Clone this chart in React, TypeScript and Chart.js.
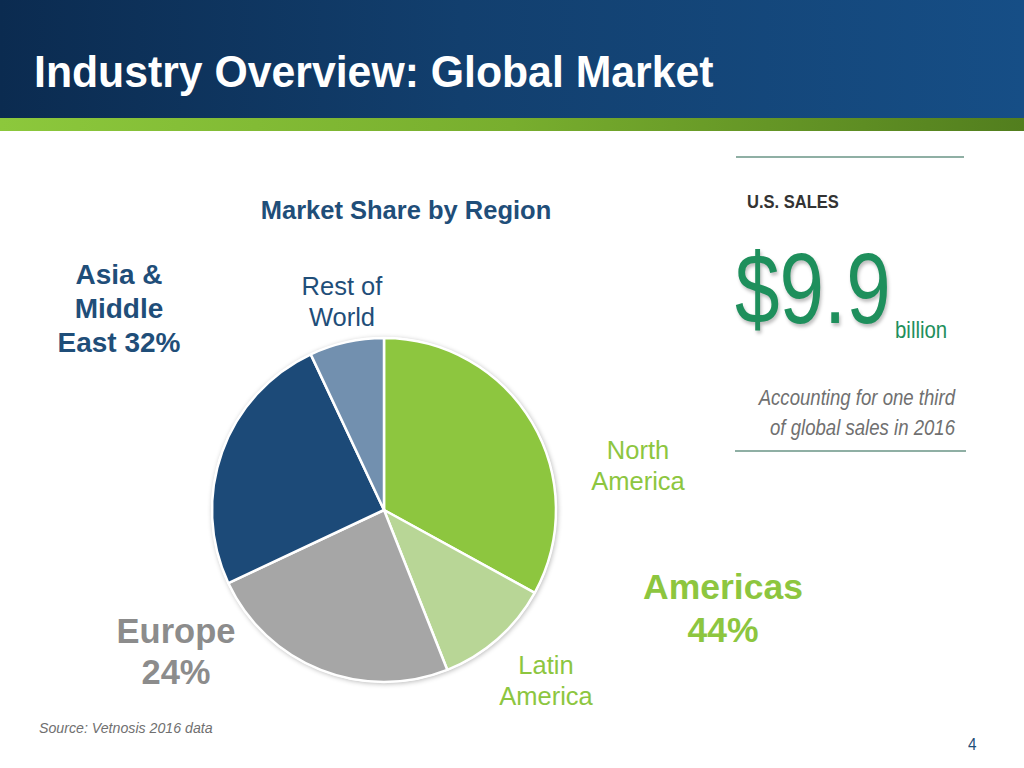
import React, { useEffect, useRef } from "react";
import { Chart, registerables } from "chart.js";

Chart.register(...registerables);

const regions = ["North America", "Latin America", "Europe", "Asia & Middle East", "Rest of World"];
const shares = [33, 11, 24, 25, 7];
const sliceColors = ["#8DC63F", "#B8D696", "#A6A6A6", "#1C4A78", "#7290AF"];

const shadowPlugin = {
  id: "pieShadow",
  beforeDatasetsDraw(chart: any) {
    const meta = chart.getDatasetMeta(0);
    const arc = meta.data[0];
    if (!arc) return;
    const { x, y, outerRadius } = arc.getProps(["x", "y", "outerRadius"], true);
    const ctx = chart.ctx;
    ctx.save();
    ctx.shadowColor = "rgba(0,0,0,0.28)";
    ctx.shadowBlur = 5;
    ctx.shadowOffsetX = 1;
    ctx.shadowOffsetY = 1;
    ctx.fillStyle = "#ffffff";
    ctx.beginPath();
    ctx.arc(x, y, outerRadius + 1, 0, Math.PI * 2);
    ctx.fill();
    ctx.restore();
  },
};

function PieChart() {
  const ref = useRef<HTMLCanvasElement>(null);
  useEffect(() => {
    if (!ref.current) return;
    const chart = new Chart(ref.current, {
      type: "pie",
      data: {
        labels: regions,
        datasets: [
          {
            data: shares,
            backgroundColor: sliceColors,
            borderColor: "#ffffff",
            borderWidth: 2.5,
          },
        ],
      },
      options: {
        animation: false,
        responsive: false,
        radius: 172,
        plugins: { legend: { display: false }, tooltip: { enabled: false } },
        layout: { padding: 0 },
      },
      plugins: [shadowPlugin],
    } as any);
    return () => chart.destroy();
  }, []);
  return (
    <canvas
      ref={ref}
      width={380}
      height={380}
      style={{ position: "absolute", left: 384 - 190, top: 510 - 190, width: 380, height: 380 }}
    />
  );
}

const base: React.CSSProperties = { position: "absolute", fontFamily: "'Liberation Sans', Arial, sans-serif", whiteSpace: "nowrap" };

function Centered(props: { cx: number; top: number; size: number; lh: number; color: string; bold?: boolean; children: React.ReactNode }) {
  return (
    <div
      style={{
        ...base,
        left: props.cx - 200,
        width: 400,
        top: props.top,
        textAlign: "center",
        fontSize: props.size,
        lineHeight: props.lh + "px",
        color: props.color,
        fontWeight: props.bold ? "bold" : "normal",
      }}
    >
      {props.children}
    </div>
  );
}

export default function App() {
  return (
    <div style={{ position: "fixed", left: 0, top: 0, width: 1024, height: 768, background: "#ffffff", overflow: "hidden" }}>
      <div style={{ position: "absolute", left: 0, top: 0, width: 1024, height: 118, background: "linear-gradient(90deg, #0B2B50 0%, #123F6E 45%, #164E86 100%)" }} />
      <div style={{ position: "absolute", left: 0, top: 118, width: 1024, height: 13, background: "linear-gradient(90deg, #8CC83C 0%, #78AE2E 50%, #527E1E 100%)" }} />
      <div style={{ ...base, left: 34, top: 46, fontSize: 45, lineHeight: "52px", fontWeight: "bold", color: "#ffffff", transform: "scaleX(0.95)", transformOrigin: "left center" }}>
        Industry Overview: Global Market
      </div>

      <Centered cx={406} top={195} size={25.5} lh={30} color="#1F4E79" bold>Market Share by Region</Centered>
      <Centered cx={119} top={258} size={28} lh={34} color="#1F4E79" bold>Asia &amp;<br />Middle<br />East 32%</Centered>
      <Centered cx={342} top={271} size={25.5} lh={31} color="#1F4E79">Rest of<br />World</Centered>
      <Centered cx={638} top={435} size={25.5} lh={31} color="#8DC63F">North<br />America</Centered>
      <Centered cx={723} top={566} size={35.5} lh={43} color="#8DC63F" bold>Americas<br />44%</Centered>
      <Centered cx={176} top={611} size={34.5} lh={41} color="#8C8C8C" bold>Europe<br />24%</Centered>
      <Centered cx={546} top={650} size={25.5} lh={31} color="#8DC63F">Latin<br />America</Centered>

      <PieChart />

      <div style={{ position: "absolute", left: 736, top: 156, width: 228, height: 2, background: "#8FAFA4" }} />
      <div style={{ ...base, left: 747, top: 191, fontSize: 19, lineHeight: "22px", fontWeight: "bold", color: "#333333", transform: "scaleX(0.87)", transformOrigin: "left center" }}>U.S. SALES</div>
      <div style={{ ...base, left: 735, top: 228, fontSize: 100, lineHeight: "120px", color: "#1E8F5C", textShadow: "2px 3px 4px rgba(0,0,0,0.25)", transform: "scaleX(0.8)", transformOrigin: "left center" }}>$9.9</div>
      <div style={{ ...base, left: 895, top: 316, fontSize: 24, lineHeight: "28px", color: "#1E8F5C", transform: "scaleX(0.85)", transformOrigin: "left center" }}>billion</div>
      <div style={{ ...base, left: 655, width: 300, top: 383, fontSize: 22, lineHeight: "30px", fontStyle: "italic", color: "#707070", textAlign: "right", transform: "scaleX(0.845)", transformOrigin: "right center" }}>
        Accounting for one third<br />of global sales in 2016
      </div>
      <div style={{ position: "absolute", left: 735, top: 450, width: 231, height: 2, background: "#8FAFA4" }} />

      <div style={{ ...base, left: 39, top: 719, fontSize: 15, lineHeight: "18px", fontStyle: "italic", color: "#707070", transform: "scaleX(0.945)", transformOrigin: "left center" }}>Source: Vetnosis 2016 data</div>
      <div style={{ ...base, left: 968, top: 735, fontSize: 17, lineHeight: "20px", color: "#1F4E79", transform: "scaleX(0.9)", transformOrigin: "left center" }}>4</div>
    </div>
  );
}
